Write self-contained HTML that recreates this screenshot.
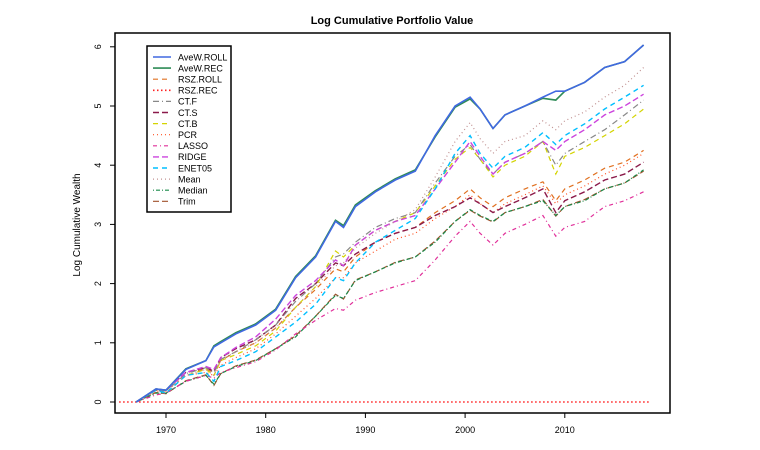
<!DOCTYPE html>
<html><head><meta charset="utf-8"><style>
body{margin:0;background:#fff;}
svg{display:block;font-family:"Liberation Sans",Arial,sans-serif;}
</style></head><body>
<svg id="chart" width="760" height="450" viewBox="0 0 760 450">
<text x="392" y="24" text-anchor="middle" font-size="11" font-weight="bold">Log Cumulative Portfolio Value</text>
<text transform="translate(80,225) rotate(-90)" text-anchor="middle" font-size="10">Log Cumulative Wealth</text>
<rect x="115" y="33" width="555" height="380" fill="none" stroke="#000" stroke-width="1.5"/>
<g id="axes"></g><g id="series"></g><g id="legend"></g>
</svg>
<script>
const years=[1967,1969,1970,1972,1974,1974.8,1975.5,1977,1979,1981,1983,1985,1987,1987.8,1989,1991,1993,1995,1997,1999,2000.5,2001.5,2002.8,2004,2006,2007.8,2009.1,2010,2012,2014,2016,2017.9];
const aveWRoll=[0,0.22,0.2,0.55,0.7,0.93,1.0,1.15,1.3,1.55,2.1,2.45,3.05,2.95,3.3,3.55,3.75,3.9,4.5,5.0,5.15,4.95,4.62,4.85,5.0,5.15,5.25,5.25,5.4,5.65,5.75,6.03];
const aveWRec=[0,0.22,0.2,0.56,0.7,0.95,1.02,1.17,1.32,1.57,2.12,2.47,3.07,2.98,3.33,3.57,3.77,3.92,4.48,4.98,5.12,4.95,4.62,4.85,5.0,5.13,5.1,5.25,5.4,5.65,5.75,6.03];
const rszRoll=[0,0.2,0.2,0.5,0.55,0.5,0.7,0.85,1.0,1.25,1.6,1.9,2.25,2.2,2.45,2.7,2.85,2.95,3.2,3.4,3.6,3.45,3.3,3.45,3.6,3.72,3.4,3.6,3.75,3.95,4.05,4.25];
const rszRec=years.map(()=>0);
const ctF=[0,0.2,0.18,0.48,0.58,0.5,0.72,0.85,1.05,1.3,1.7,2.0,2.45,2.5,2.7,2.95,3.1,3.2,3.7,4.15,4.35,4.1,3.85,4.05,4.2,4.4,4.0,4.2,4.4,4.6,4.85,5.1];
const ctS=[0,0.2,0.2,0.5,0.58,0.52,0.75,0.9,1.05,1.3,1.75,2.0,2.35,2.3,2.5,2.7,2.85,2.95,3.15,3.3,3.45,3.35,3.2,3.3,3.45,3.6,3.2,3.4,3.55,3.75,3.85,4.05];
const ctB=[0,0.2,0.15,0.45,0.55,0.45,0.7,0.8,0.95,1.2,1.6,1.95,2.55,2.45,2.65,2.9,3.05,3.2,3.65,4.1,4.3,4.1,3.8,4.0,4.15,4.4,3.85,4.15,4.3,4.5,4.7,4.95];
const pcr=[0,0.18,0.18,0.45,0.5,0.45,0.62,0.75,0.9,1.15,1.45,1.75,2.1,2.1,2.35,2.55,2.75,2.85,3.1,3.3,3.5,3.35,3.2,3.35,3.5,3.65,3.35,3.5,3.65,3.85,4.0,4.2];
const lasso=[0,0.12,0.15,0.35,0.45,0.4,0.5,0.58,0.68,0.88,1.15,1.38,1.58,1.55,1.72,1.85,1.95,2.05,2.4,2.8,3.05,2.85,2.65,2.85,3.0,3.15,2.8,2.95,3.05,3.3,3.4,3.55];
const ridge=[0,0.22,0.2,0.5,0.6,0.55,0.75,0.92,1.1,1.4,1.8,2.05,2.4,2.3,2.65,2.9,3.05,3.15,3.6,4.05,4.4,4.15,3.85,4.05,4.2,4.4,4.25,4.4,4.6,4.85,5.0,5.2];
const enet05=[0,0.2,0.15,0.45,0.5,0.35,0.6,0.7,0.85,1.1,1.35,1.65,2.1,2.05,2.35,2.7,2.9,3.1,3.6,4.2,4.5,4.2,3.95,4.15,4.3,4.55,4.35,4.5,4.7,4.95,5.15,5.35];
const meanS=[0,0.2,0.2,0.45,0.55,0.45,0.7,0.85,1.0,1.25,1.6,1.95,2.3,2.35,2.6,2.85,3.05,3.25,3.8,4.4,4.72,4.45,4.2,4.4,4.5,4.75,4.6,4.75,4.9,5.15,5.35,5.65];
const medianS=[0,0.15,0.15,0.35,0.45,0.3,0.48,0.6,0.7,0.9,1.1,1.45,1.8,1.75,2.05,2.2,2.35,2.45,2.7,3.05,3.25,3.15,3.05,3.2,3.3,3.4,3.15,3.3,3.4,3.6,3.7,3.92];
const trimS=[0,0.16,0.14,0.36,0.46,0.28,0.48,0.61,0.71,0.9,1.12,1.45,1.82,1.74,2.06,2.2,2.36,2.45,2.72,3.05,3.24,3.14,3.04,3.2,3.3,3.42,3.14,3.3,3.42,3.6,3.7,3.9];
const seriesNames=["AveW.ROLL","AveW.REC","RSZ.ROLL","RSZ.REC","CT.F","CT.S","CT.B","PCR","LASSO","RIDGE","ENET05","Mean","Median","Trim"];
const seriesData=[aveWRoll,aveWRec,rszRoll,rszRec,ctF,ctS,ctB,pcr,lasso,ridge,enet05,meanS,medianS,trimS];
const xTicks=[1970,1980,1990,2000,2010];
const yTicks=[0,1,2,3,4,5,6];
const styles=[["#4169e1","",1.6],["#2e8b57","",1.6],["#e07020","5,4",1.2],["#ff2020","1.5,2.5",1.6],["#888888","6,3,1,3",1.2],["#8b1a4a","6,3",1.4],["#d4d400","5,4",1.2],["#ff5020","1,3",1.2],["#e0309a","4,3,1,3",1.2],["#cc44dd","6,3",1.4],["#00bfff","5,4",1.4],["#c09090","1,3",1.2],["#1a8a4a","1,2,4,2",1.2],["#a0522d","6,3",1.2]];
const NS="http://www.w3.org/2000/svg";
const xS=y=>166+(y-1970)*9.97;
const yS=v=>402-v*59.2;
function mk(t,a,p){const e=document.createElementNS(NS,t);for(const k in a)e.setAttribute(k,a[k]);p.appendChild(e);return e;}
const ax=document.getElementById('axes');
xTicks.forEach(t=>{
 const l=mk('line',{x1:xS(t),x2:xS(t),y1:413,y2:418,stroke:'#000'},ax);
 
 
 const tx=mk('text',{x:xS(t),y:433,'text-anchor':'middle','font-size':'9'},ax);tx.textContent=t;
 
 
});
yTicks.forEach(t=>{
 const l=mk('line',{x1:110,x2:115,y1:yS(t),y2:yS(t),stroke:'#000'},ax);
 
 
 const tx=mk('text',{transform:`translate(101,${yS(t)}) rotate(-90)`,'text-anchor':'middle','font-size':'9'},ax);tx.textContent=t;
 
 
});
const sg=document.getElementById('series');
const order=[3,13,12,8,7,2,5,6,4,9,10,11,1,0];
order.forEach(i=>{
 const d=seriesData[i];const st=styles[i];
 let pts;
 if(i===3){pts=`${xS(1965.3)},${yS(0)} ${xS(2018.5)},${yS(0)}`;}
 else pts=years.map((y,j)=>xS(y).toFixed(1)+','+yS(d[j]).toFixed(1)).join(' ');
 const p=mk('polyline',{points:pts,fill:'none',stroke:st[0],'stroke-width':st[2],'stroke-dasharray':st[1]},sg);
 
 
});
const lg=document.getElementById('legend');
const box=mk('rect',{x:147,y:46,width:84,height:166,fill:'#fff',stroke:'#000','stroke-width':1.5},lg);


seriesNames.forEach((n,i)=>{
 const y=57+i*11.1;const st=styles[i];
 const g=mk('g',{},lg);
 
 
 mk('line',{x1:153,x2:171,y1:y,y2:y,stroke:st[0],'stroke-width':st[2],'stroke-dasharray':st[1]},g);
 const t=mk('text',{x:178,y:y+3.3,'font-size':'9'},g);t.textContent=n;
});
</script>
</body></html>
